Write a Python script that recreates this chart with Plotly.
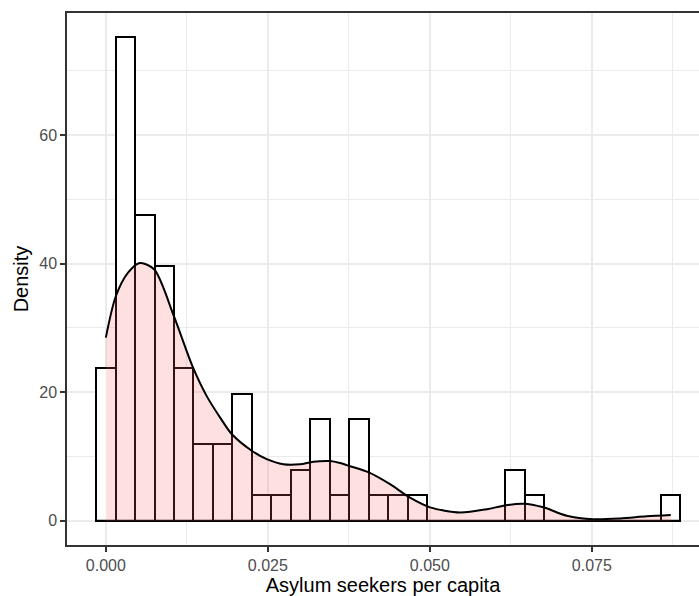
import plotly.graph_objects as go

# ---- data ----
bin_start = -0.0015          # left edge of first bin
bin_width = 0.003006
counts = [6, 19, 12, 10, 6, 3, 3, 5, 1, 1,
          2, 4, 1, 4, 1, 1, 1, 0, 0, 0,
          0, 2, 1, 0, 0, 0, 0, 0, 0, 1]

dens_x = [0.0000, 0.00153, 0.00343, 0.00528, 0.00748, 0.01052, 0.01335, 0.01557,
          0.01762, 0.01943, 0.02252, 0.02483, 0.02739, 0.02997, 0.03202, 0.03460,
          0.03614, 0.03769, 0.04066, 0.04386, 0.04695, 0.05003, 0.05466, 0.05878,
          0.06160, 0.06443, 0.06752, 0.07113, 0.07523, 0.07935, 0.08347, 0.08718]
dens_y = [28.5, 34.9, 38.6, 40.1, 39.1, 31.8, 24.1, 19.4,
          16.1, 13.5, 10.9, 9.6, 8.8, 8.8, 9.2, 9.3,
          9.0, 8.5, 7.5, 5.7, 3.6, 2.1, 1.3, 1.8,
          2.4, 2.65, 2.1, 0.8, 0.26, 0.37, 0.7, 0.9]

x_ticks = [0.0, 0.025, 0.05, 0.075]
x_tick_labels = ["0.000", "0.025", "0.050", "0.075"]
y_ticks = [0, 20, 40, 60]
y_tick_labels = ["0", "20", "40", "60"]

x_title = "Asylum seekers per capita"
y_title = "Density"

# ---- derived histogram values ----
n = sum(counts)
centers = [bin_start + bin_width * (i + 0.5) for i in range(len(counts))]
density = [c / (n * bin_width) for c in counts]
edge_lo = bin_start
edge_hi = bin_start + bin_width * len(counts)

FONT = "Liberation Sans, Arial, Helvetica, sans-serif"
LW = 2.0

fig = go.Figure()

fig.add_trace(go.Bar(
    x=centers, y=density, width=bin_width,
    marker=dict(color="white", line=dict(color="black", width=LW)),
    showlegend=False, hoverinfo="skip",
))

# baseline of histogram (visible where bins are empty)
fig.add_trace(go.Scatter(
    x=[edge_lo, edge_hi], y=[0, 0], mode="lines",
    line=dict(color="black", width=LW),
    showlegend=False, hoverinfo="skip",
))

fig.add_trace(go.Scatter(
    x=dens_x, y=dens_y, mode="lines",
    line=dict(color="black", width=LW, shape="spline", smoothing=0.8),
    fill="tozeroy", fillcolor="rgba(255,102,102,0.2)",
    showlegend=False, hoverinfo="skip",
))

axis_common = dict(
    showgrid=True, gridcolor="#EBEBEB", gridwidth=1.5,
    zeroline=False,
    ticks="outside", ticklen=5, tickwidth=1.5, tickcolor="#333333",
    tickfont=dict(family=FONT, size=16, color="#4D4D4D"),
    showline=True, linecolor="#333333", linewidth=1.5,
)

fig.update_layout(
    width=699, height=596,
    margin=dict(l=67, r=0, t=13, b=51, pad=0),
    paper_bgcolor="white", plot_bgcolor="white",
    bargap=0,
    xaxis=dict(
        axis_common,
        range=[-0.00599, 0.09154],
        tickvals=x_ticks, ticktext=x_tick_labels,
        mirror=True,
        minor=dict(showgrid=True, gridcolor="#EBEBEB", gridwidth=0.75,
                   tickvals=[0.0125, 0.0375, 0.0625, 0.0875], ticks=""),
        title=dict(text=x_title, font=dict(family=FONT, size=20, color="black"), standoff=0),
    ),
    yaxis=dict(
        axis_common,
        range=[-3.76, 79.0],
        tickvals=y_ticks, ticktext=y_tick_labels,
        mirror=False,
        minor=dict(showgrid=True, gridcolor="#EBEBEB", gridwidth=0.75,
                   tickvals=[10, 30, 50, 70], ticks=""),
        title=dict(text=y_title, font=dict(family=FONT, size=20, color="black"), standoff=5),
    ),
)

fig.write_html("out.html")
